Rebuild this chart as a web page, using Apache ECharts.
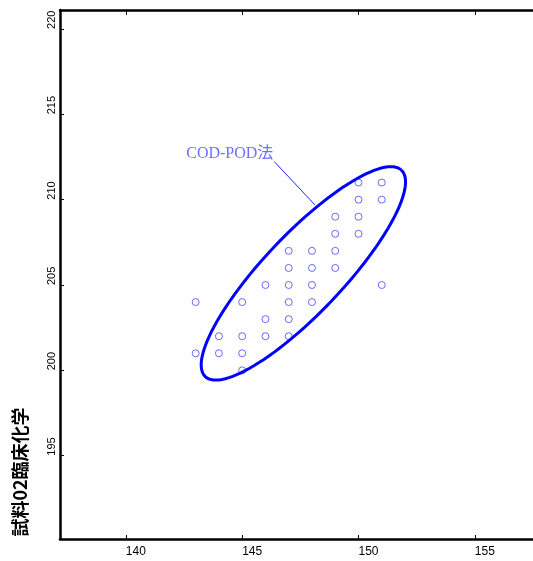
<!DOCTYPE html>
<html>
<head>
<meta charset="utf-8">
<script src="https://cdn.jsdelivr.net/npm/echarts@6/dist/echarts.min.js"></script>
<style>
html,body{margin:0;padding:0;background:#fff;}
#main{width:533px;height:561px;}
</style>
</head>
<body>
<div id="main"></div>
<script>
// 測定値 (x, y)
var points = [
    [150,211],[151,211],
    [150,210],[151,210],
    [149,209],[150,209],
    [149,208],[150,208],
    [147,207],[148,207],[149,207],
    [147,206],[148,206],[149,206],
    [146,205],[147,205],[148,205],[151,205],
    [143,204],[145,204],[147,204],[148,204],
    [146,203],[147,203],
    [144,202],[145,202],[146,202],[147,202],
    [143,201],[144,201],[145,201],
    [145,200]
];
var xTicks = [140,145,150,155];
var yTicks = [195,200,205,210,215,220];
// 楕円: 中心, 長軸ベクトル, 短軸ベクトル (データ単位)
var ellipseCenter = [147.63,205.68];
var ellipseMajor = [4.216,6.046];
var ellipseMinor = [-1.230,1.589];
// 注記
var noteLine = [[146.38,212.23],[148.13,209.69]];
var notePos = [146.34,212.71];
var noteText = 'COD-POD法';
var yName = '試料02臨床化学';

var chart = echarts.init(document.getElementById('main'));
chart.setOption({
    animation:false,
    backgroundColor:'#fff',
    grid:{left:60,top:10,bottom:22,right:0},
    xAxis:[{
        type:'value',
        min:137.17,
        max:157.5,
        position:'bottom',
        splitLine:{show:false},
        axisLine:{lineStyle:{color:'#000',width:2.5}},
        axisTick:{inside:true,length:4,customValues:xTicks,lineStyle:{color:'#000',width:1}},
        axisLabel:{
            customValues:xTicks,
            align:'left',
            verticalAlign:'top',
            margin:7,
            color:'#000',
            fontSize:12,
            fontFamily:'Liberation Sans Narrow, Liberation Sans, sans-serif'
        }
    },{
        type:'value',
        min:137.17,
        max:157.5,
        position:'top',
        splitLine:{show:false},
        axisLine:{lineStyle:{color:'#000',width:2.5}},
        axisTick:{inside:true,length:5,customValues:xTicks,lineStyle:{color:'#000',width:1}},
        axisLabel:{show:false}
    }],
    yAxis:{
        type:'value',
        min:190.12,
        max:221.11,
        splitLine:{show:false},
        axisLine:{lineStyle:{color:'#000',width:2.5}},
        axisTick:{inside:true,length:4,customValues:yTicks,lineStyle:{color:'#000',width:1}},
        axisLabel:{
            customValues:yTicks,
            rotate:90,
            align:'left',
            verticalAlign:'bottom',
            margin:3,
            color:'#000',
            fontSize:11,
            fontFamily:'Liberation Sans, Arial, sans-serif'
        }
    },
    graphic:[{
        type:'text',
        x:20,
        y:472,
        rotation:Math.PI/2,
        style:{
            text:yName,
            fill:'#000',
            font:'bold 18px "Noto Sans CJK JP", sans-serif',
            align:'center',
            verticalAlign:'middle'
        }
    }],
    series:[{
        type:'scatter',
        data:points,
        symbol:'circle',
        symbolSize:7,
        itemStyle:{color:'#fff',borderColor:'#4646ff',borderWidth:1},
        z:3
    },{
        type:'custom',
        data:[ellipseCenter],
        renderItem:function(params,api){
            var cx=api.value(0),cy=api.value(1);
            var pts=[];
            for(var i=0;i<=120;i++){
                var t=i/120*Math.PI*2;
                var c=Math.cos(t),s=Math.sin(t);
                pts.push(api.coord([
                    cx+ellipseMajor[0]*c+ellipseMinor[0]*s,
                    cy+ellipseMajor[1]*c+ellipseMinor[1]*s
                ]));
            }
            return {
                type:'polyline',
                shape:{points:pts},
                style:{fill:null,stroke:'#0000ff',lineWidth:3}
            };
        },
        z:4
    },{
        type:'line',
        data:noteLine,
        symbol:'none',
        lineStyle:{color:'#2020ff',width:1},
        z:4
    },{
        type:'scatter',
        data:[notePos],
        symbolSize:0,
        label:{
            show:true,
            position:'left',
            distance:0,
            formatter:noteText,
            color:'#4a4aff',
            fontSize:16,
            fontFamily:'Liberation Serif, "Noto Sans CJK JP", serif'
        },
        z:5
    }]
});
</script>
</body>
</html>
